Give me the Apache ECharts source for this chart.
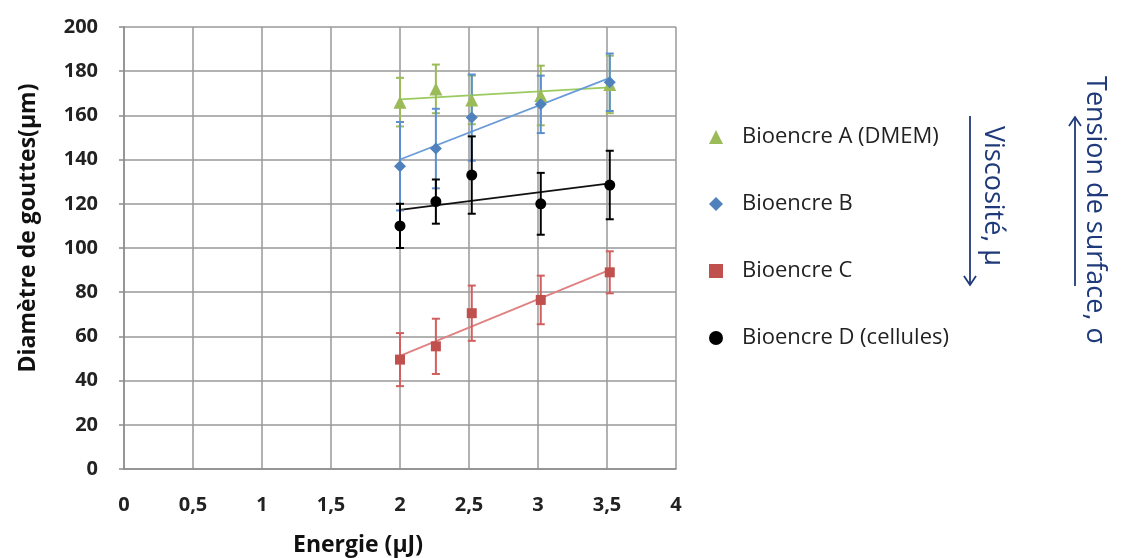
<!DOCTYPE html>
<html><head><meta charset="utf-8">
<script src="https://cdn.jsdelivr.net/npm/echarts@6/dist/echarts.min.js"></script>
<style>html,body{margin:0;padding:0;background:#fff}#c{width:1121px;height:558px}</style>
</head><body><div id="c"></div>
<script>
const energies = [2.0, 2.26, 2.52, 3.02, 3.52];
const names = ['Bioencre A (DMEM)', 'Bioencre B', 'Bioencre C', 'Bioencre D (cellules)'];
const valuesA = [166, 172, 167, 169, 174];
const errorsA = [11, 11, 11, 13.5, 13];
const valuesB = [137, 145, 159, 165, 175];
const errorsB = [20, 18, 19.5, 13, 13];
const valuesC = [49.5, 55.5, 70.5, 76.5, 89];
const errorsC = [12, 12.5, 12.5, 11, 9.5];
const valuesD = [110, 121, 133, 120, 128.5];
const errorsD = [10, 10, 17.5, 14, 15.5];
const xTicks = ['0','0,5','1','1,5','2','2,5','3','3,5','4'];

const styles = [
  {vals: valuesA, errs: errorsA, color: '#9BBB59', bar: '#9BBB59', trend: '#9BCB5F', symbol: 'triangle', size: 13},
  {vals: valuesB, errs: errorsB, color: '#4F81BD', bar: '#5B8FD0', trend: '#6A9BD8', symbol: 'diamond', size: 12},
  {vals: valuesC, errs: errorsC, color: '#C0504D', bar: '#D25E5E', trend: '#E08080', symbol: 'rect', size: 10},
  {vals: valuesD, errs: errorsD, color: '#000000', bar: '#000000', trend: '#111111', symbol: 'circle', size: 11}
];

function regression(xs, ys) {
  const n = xs.length;
  const mx = xs.reduce((a, b) => a + b, 0) / n;
  const my = ys.reduce((a, b) => a + b, 0) / n;
  let sxy = 0, sxx = 0;
  for (let i = 0; i < n; i++) { sxy += (xs[i] - mx) * (ys[i] - my); sxx += (xs[i] - mx) ** 2; }
  const s = sxy / sxx;
  const x0 = xs[0], x1 = xs[n - 1];
  return [[x0, my + s * (x0 - mx)], [x1, my + s * (x1 - mx)]];
}

const series = [];
styles.forEach((st, k) => {
  series.push({
    type: 'line', data: regression(energies, st.vals), showSymbol: false, silent: true,
    lineStyle: {color: st.trend, width: 1.8}, z: 2
  });
  series.push({
    type: 'custom', silent: true, z: 3,
    data: energies.map((x, i) => [x, st.vals[i] - st.errs[i], st.vals[i] + st.errs[i]]),
    renderItem: function (params, api) {
      const lo = api.coord([api.value(0), api.value(1)]);
      const hi = api.coord([api.value(0), api.value(2)]);
      const w = 4;
      const ls = {stroke: st.bar, lineWidth: 2};
      return {type: 'group', children: [
        {type: 'line', shape: {x1: lo[0], y1: lo[1], x2: hi[0], y2: hi[1]}, style: ls},
        {type: 'line', shape: {x1: lo[0] - w, y1: lo[1], x2: lo[0] + w, y2: lo[1]}, style: ls},
        {type: 'line', shape: {x1: hi[0] - w, y1: hi[1], x2: hi[0] + w, y2: hi[1]}, style: ls}
      ]};
    }
  });
  series.push({
    type: 'scatter', name: names[k], data: energies.map((x, i) => [x, st.vals[i]]),
    symbol: st.symbol, symbolSize: st.size, itemStyle: {color: st.color, opacity: 1}, z: 4
  });
});

const navy = '#1F3A7A';
const chart = echarts.init(document.getElementById('c'));
chart.setOption({
  animation: false,
  backgroundColor: '#fff',
  grid: {left: 124, top: 27, width: 552, height: 442, containLabel: false},
  xAxis: {
    type: 'value', min: 0, max: 4, interval: 0.5,
    axisLine: {show: true, lineStyle: {color: '#8c8c8c', width: 1.5}},
    axisTick: {show: false},
    splitLine: {show: true, lineStyle: {color: '#999', width: 1.5}},
    axisLabel: {margin: 26, color: '#222', fontFamily: 'Open Sans', fontWeight: 'bold', fontSize: 20,
      formatter: v => xTicks[Math.round(v * 2)]}
  },
  yAxis: {
    type: 'value', min: 0, max: 200, interval: 20,
    axisLine: {show: true, lineStyle: {color: '#8c8c8c', width: 1.5}},
    axisTick: {show: true, length: 5, lineStyle: {color: '#8c8c8c', width: 1.5}},
    splitLine: {show: true, lineStyle: {color: '#999', width: 1.5}},
    axisLabel: {margin: 26, color: '#222', fontFamily: 'Open Sans', fontWeight: 'bold', fontSize: 20}
  },
  legend: {
    orient: 'vertical', left: 704, top: 120, itemGap: 43, itemWidth: 14, itemHeight: 14,
    data: names,
    textStyle: {fontFamily: 'Open Sans', fontSize: 22, color: '#222', lineHeight: 24, padding: [0, 0, 0, 14]}
  },
  graphic: [
    {type: 'text', x: 28, y: 228, rotation: Math.PI / 2,
      style: {text: 'Diamètre de gouttes(µm)', fill: '#111', font: 'bold 23px "Open Sans"', textAlign: 'center', textVerticalAlign: 'middle'}},
    {type: 'text', x: 358, y: 545,
      style: {text: 'Energie (µJ)', fill: '#111', font: 'bold 23px "Open Sans"', textAlign: 'center', textVerticalAlign: 'middle'}},
    {type: 'text', x: 993, y: 196, rotation: -Math.PI / 2,
      style: {text: 'Viscosité, µ', fill: navy, font: '27px "Open Sans"', textAlign: 'center', textVerticalAlign: 'middle'}},
    {type: 'text', x: 1095, y: 210, rotation: -Math.PI / 2,
      style: {text: 'Tension de surface, σ', fill: navy, font: '27px "Open Sans"', textAlign: 'center', textVerticalAlign: 'middle'}},
    {type: 'line', shape: {x1: 970, y1: 116, x2: 970, y2: 285}, style: {stroke: navy, lineWidth: 1.8}},
    {type: 'polyline', shape: {points: [[964, 276], [970, 285], [976, 276]]}, style: {stroke: navy, lineWidth: 1.8, fill: null}},
    {type: 'line', shape: {x1: 1075, y1: 117, x2: 1075, y2: 286}, style: {stroke: navy, lineWidth: 1.8}},
    {type: 'polyline', shape: {points: [[1069, 126], [1075, 117], [1081, 126]]}, style: {stroke: navy, lineWidth: 1.8, fill: null}}
  ],
  series: series
});
</script></body></html>
